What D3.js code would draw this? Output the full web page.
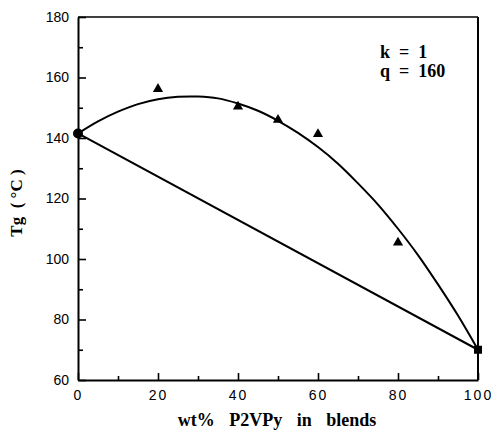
<!DOCTYPE html>
<html>
<head>
<meta charset="utf-8">
<style>
body { margin: 0; background: #fff; }
text { fill: #000; }
.tick line { stroke: #000; stroke-width: 1.6px; }
.domain { stroke: #000; stroke-width: 2px; }
</style>
</head>
<body>
<script src="https://cdn.jsdelivr.net/npm/d3@7"></script>
<script>
// measured Tg values (wt% P2VPy)
var blendWt = [20, 40, 50, 60, 80];
var blendTg = [156.2, 150.4, 146, 141.3, 105.4];
// pure components
var pureWt = [0, 100];
var pureTg = [141.5, 70];
// fitted curve (k = 1, q = 160)
var fitWt = [0, 5, 10, 15, 20, 25, 30, 35, 40, 45, 50, 55, 60, 65, 70, 75, 80, 85, 90, 95, 100];
var fitTg = [141.5, 145.5, 148.7, 151.2, 152.8, 153.6, 153.7, 153.1, 151.4, 149, 145.7, 141.7, 137, 131.5, 125, 118, 110, 101.3, 91.6, 81.3, 70];
var xMajor = [0, 20, 40, 60, 80, 100];
var xMinor = [10, 30, 50, 70, 90];
var yMajor = [60, 80, 100, 120, 140, 160, 180];
var yMinor = [70, 90, 110, 130, 150, 170];

var width = 493, height = 437;
var plotL = 78, plotR = 478, plotT = 17, plotB = 380;

var svg = d3.select("body").append("svg")
    .attr("width", width)
    .attr("height", height);

var x = d3.scaleLinear().domain([0, 100]).range([plotL, plotR]);
var y = d3.scaleLinear().domain([60, 180]).range([plotB, plotT]);

// frame top + right
svg.append("line")
    .attr("x1", plotL).attr("x2", plotR)
    .attr("y1", plotT).attr("y2", plotT)
    .style("stroke", "#000").style("stroke-width", 1.3);
svg.append("line")
    .attr("x1", plotR).attr("x2", plotR)
    .attr("y1", plotT).attr("y2", plotB)
    .style("stroke", "#000").style("stroke-width", 2);

// minor ticks
svg.append("g")
    .attr("transform", "translate(0," + plotB + ")")
    .call(d3.axisBottom(x).tickValues(xMinor).tickSize(-4).tickFormat(""))
    .call(function(g) { g.select(".domain").remove(); });
svg.append("g")
    .attr("transform", "translate(" + plotL + ",0)")
    .call(d3.axisLeft(y).tickValues(yMinor).tickSize(-5).tickFormat(""))
    .call(function(g) { g.select(".domain").remove(); });

// major axes
var xAxis = svg.append("g")
    .attr("transform", "translate(0," + plotB + ")")
    .call(d3.axisBottom(x).tickValues(xMajor).tickSize(-7).tickSizeOuter(0).tickPadding(10));
xAxis.selectAll("text")
    .style("font-family", "'Liberation Sans', Arial, sans-serif")
    .style("font-size", "14px")
    .style("letter-spacing", "2px");

var yAxis = svg.append("g")
    .attr("transform", "translate(" + plotL + ",0)")
    .call(d3.axisLeft(y).tickValues(yMajor).tickSize(-8).tickSizeOuter(0).tickPadding(9));
yAxis.selectAll("text")
    .style("font-family", "'Liberation Sans', Arial, sans-serif")
    .style("font-size", "14px");

// straight tie line between pure components
var line = d3.line()
    .x(function(d) { return x(d[0]); })
    .y(function(d) { return y(d[1]); });

svg.append("path")
    .datum(d3.zip(pureWt, pureTg))
    .attr("d", line)
    .style("fill", "none")
    .style("stroke", "#000")
    .style("stroke-width", 2);

// fitted curve
svg.append("path")
    .datum(d3.zip(fitWt, fitTg))
    .attr("d", line.curve(d3.curveCatmullRom))
    .style("fill", "none")
    .style("stroke", "#000")
    .style("stroke-width", 2);

// triangles
svg.selectAll(".tri")
    .data(d3.zip(blendWt, blendTg))
    .enter().append("path")
    .attr("class", "tri")
    .attr("transform", function(d) { return "translate(" + x(d[0]) + "," + y(d[1]) + ")"; })
    .attr("d", d3.symbol().type(d3.symbolTriangle).size(45));

// pure component markers
svg.append("circle")
    .attr("cx", x(pureWt[0])).attr("cy", y(pureTg[0]))
    .attr("r", 5);
svg.append("path")
    .attr("transform", "translate(" + x(pureWt[1]) + "," + y(pureTg[1]) + ")")
    .attr("d", d3.symbol().type(d3.symbolSquare).size(64));

// annotation
var serif = "'Liberation Serif', 'Times New Roman', serif";
svg.append("text")
    .attr("x", 380).attr("y", 58)
    .attr("xml:space", "preserve")
    .style("font-family", serif).style("font-weight", "bold").style("font-size", "18px")
    .text("k  =  1");
svg.append("text")
    .attr("x", 380).attr("y", 77)
    .attr("xml:space", "preserve")
    .style("font-family", serif).style("font-weight", "bold").style("font-size", "18px")
    .text("q  =  160");

// axis titles
svg.append("text")
    .attr("x", 277).attr("y", 426)
    .attr("text-anchor", "middle")
    .style("font-family", serif).style("font-weight", "bold").style("font-size", "18px")
    .style("word-spacing", "10px")
    .text("wt%  P2VPy  in  blends");

svg.append("text")
    .attr("transform", "translate(22,203) rotate(-90)")
    .attr("text-anchor", "middle")
    .attr("xml:space", "preserve")
    .style("font-family", serif).style("font-weight", "bold").style("font-size", "17px")
    .text("Tg  ( °C )");
</script>
</body>
</html>
